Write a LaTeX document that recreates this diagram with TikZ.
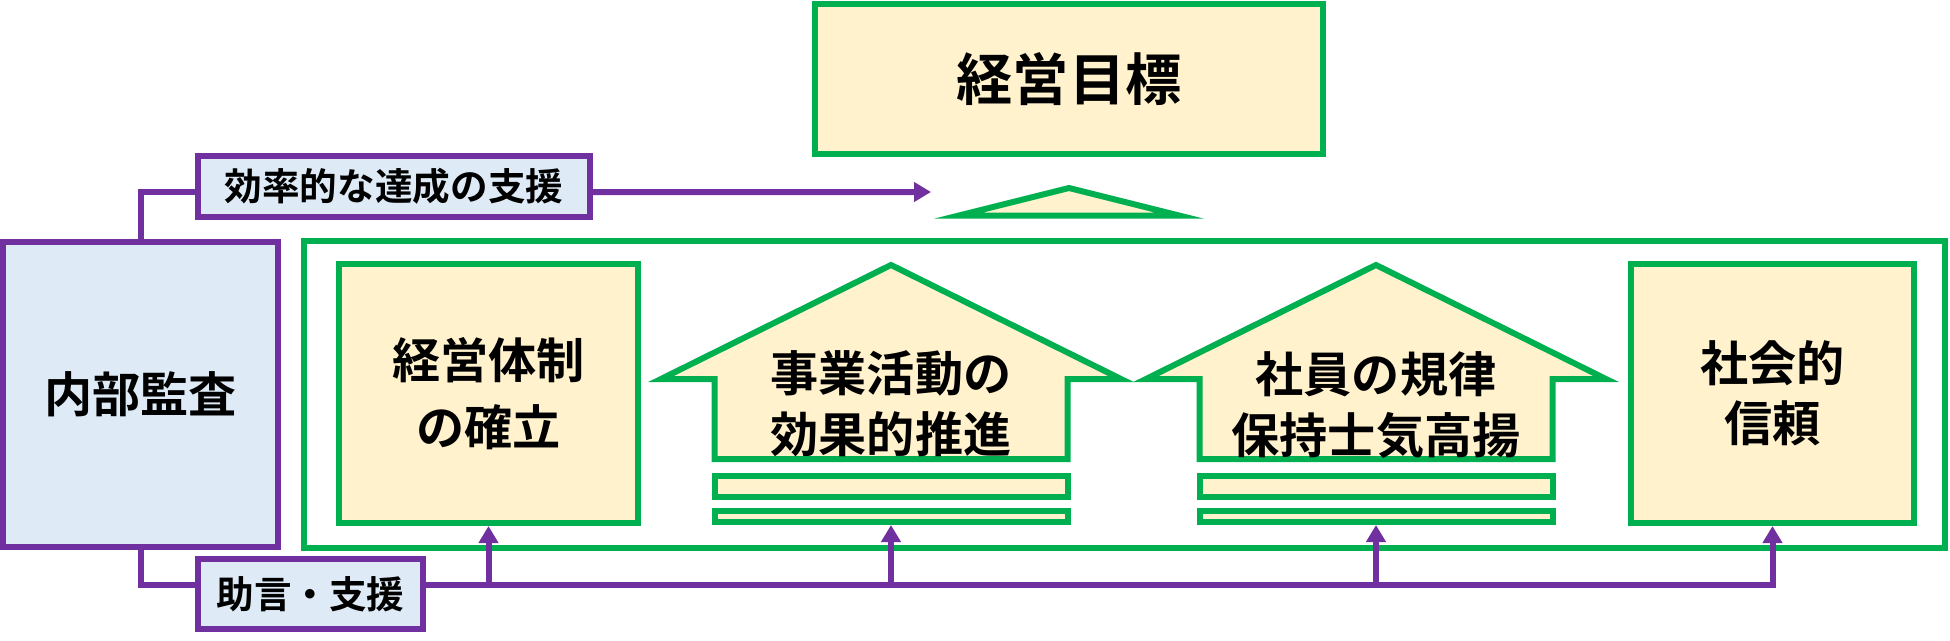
\documentclass[tikz,border=0pt]{standalone}
\usepackage{fontspec}
\setmainfont{Noto Sans CJK JP}[BoldFont={Noto Sans CJK JP Bold}]
\usetikzlibrary{arrows.meta}
\definecolor{frgreen}{HTML}{00B050}
\definecolor{auditpurple}{HTML}{7030A0}
\definecolor{goalfill}{HTML}{FFF2CC}
\definecolor{auditfill}{HTML}{DEEBF7}

\begin{document}
\begin{tikzpicture}[
  gbox/.style={draw=frgreen,line width=0.06cm,fill=goalfill,inner sep=0pt,align=center,
    font=\fontsize{13.7}{19}\selectfont\bfseries},
  pbox/.style={draw=auditpurple,line width=0.06cm,fill=auditfill,inner sep=0pt,align=center,
    font=\fontsize{10.7}{13}\selectfont\bfseries},
  pline/.style={draw=auditpurple,line width=0.06cm},
  parrow/.style={pline,-{Triangle[length=0.17cm,width=0.19cm]}},
  house/.style={draw=frgreen,line width=0.06cm,fill=goalfill,line join=miter},
  housetext/.style={align=center,font=\fontsize{13.7}{17.5}\selectfont\bfseries}
]
\useasboundingbox (0,0) rectangle (19.5,6.4);
\node[gbox,minimum width=5.08cm,minimum height=1.5cm,font=\fontsize{16}{19}\selectfont\bfseries] (goal) at (10.69,5.61) {経営目標};
\draw[house] (9.59,4.245) -- (10.69,4.52) -- (11.79,4.245) -- cycle;
\node[draw=frgreen,line width=0.06cm,minimum width=16.41cm,minimum height=3.07cm] (frame) at (11.245,2.455) {};
\node[pbox,minimum width=2.75cm,minimum height=3.05cm,font=\fontsize{13.7}{19}\selectfont\bfseries] (audit) at (1.405,2.455) {内部監査};
\node[pbox,minimum width=3.92cm,minimum height=0.61cm] (toplabel) at (3.94,4.535) {効率的な達成の支援};
\node[pbox,minimum width=2.25cm,minimum height=0.70cm] (botlabel) at (3.105,0.46) {助言・支援};
\node[gbox,minimum width=2.99cm,minimum height=2.59cm] (estab) at (4.885,2.465) {経営体制\\の確立};
\node[gbox,minimum width=2.83cm,minimum height=2.59cm,font=\fontsize{13.7}{17}\selectfont\bfseries] (trust) at (17.725,2.465) {社会的\\信頼};
\draw[house] (8.91,3.75) -- (11.21,2.61) -- (10.675,2.61) -- (10.675,1.81) -- (7.145,1.81) -- (7.145,2.61) -- (6.61,2.61) -- cycle;
\node[housetext] (biz) at (8.91,2.36) {事業活動の\\効果的推進};
\node[gbox,minimum width=3.53cm,minimum height=0.21cm] (bizbarA) at (8.91,1.535) {};
\node[gbox,minimum width=3.53cm,minimum height=0.11cm] (bizbarB) at (8.91,1.235) {};
\draw[house] (13.76,3.75) -- (16.06,2.61) -- (15.525,2.61) -- (15.525,1.81) -- (11.995,1.81) -- (11.995,2.61) -- (11.46,2.61) -- cycle;
\node[housetext] (staff) at (13.76,2.35) {社員の規律\\保持士気高揚};
\node[gbox,minimum width=3.53cm,minimum height=0.21cm] (staffbarA) at (13.76,1.535) {};
\node[gbox,minimum width=3.53cm,minimum height=0.11cm] (staffbarB) at (13.76,1.235) {};
\coordinate (goaltip) at (9.31,4.48);
\coordinate (bus) at ([yshift=0.09cm]botlabel.east);
\draw[pline] (audit.north) |- ([yshift=-0.055cm]toplabel.west);
\draw[parrow] ([yshift=-0.055cm]toplabel.east) -- (goaltip);
\draw[pline] (audit.south) |- ([yshift=0.09cm]botlabel.west);
\draw[parrow] (bus) -| (trust.south);
\draw[parrow] (bus -| estab.south) -- (estab.south);
\draw[parrow] (bus -| bizbarB.south) -- (bizbarB.south);
\draw[parrow] (bus -| staffbarB.south) -- (staffbarB.south);
\end{tikzpicture}
\end{document}
